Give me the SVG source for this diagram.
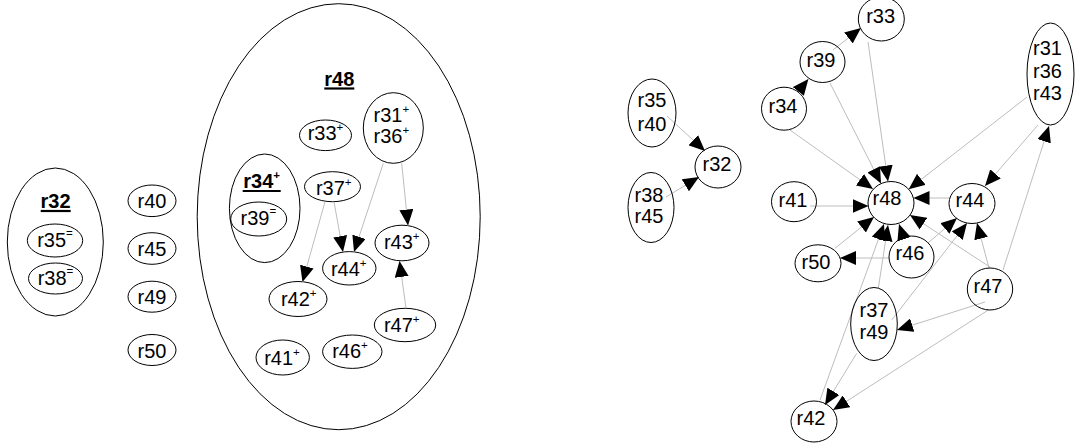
<svg xmlns="http://www.w3.org/2000/svg" width="1075" height="443" viewBox="0 0 1075 443">
  <defs>
    <marker id="arrow" markerUnits="userSpaceOnUse" markerWidth="16" markerHeight="14" viewBox="0 0 16 14" refX="16" refY="7" orient="auto">
      <path d="M0,0 L16,7 L0,14 z" fill="#000"/>
    </marker>
    <style>
      ellipse { fill: none; stroke: #000; stroke-width: 1; }
      text { font-family: "Liberation Sans", Arial, sans-serif; font-size: 20px; fill: #000; text-anchor: middle; }
      .title { font-weight: bold; }
      .uline { stroke: #000; stroke-width: 2.2; }
      .sup { font-size: 11.5px; }
      #edges line { stroke: #bdbdbd; stroke-width: 1; marker-end: url(#arrow); }
    </style>
  </defs>
  <rect width="1075" height="443" fill="#fff"/>

  <!-- left: nested grouping -->
  <g id="r32-group">
    <ellipse cx="55.3" cy="242" rx="48" ry="74"/>
    <text class="title" x="55.5" y="208.3">r32</text>
    <line class="uline" x1="40.7" y1="211" x2="70.7" y2="211"/>
  </g>
  <g id="r35-eq">
    <ellipse cx="55" cy="240.5" rx="27.7" ry="16.5"/>
    <text x="55" y="247">r35<tspan class="sup" dy="-10">=</tspan></text>
  </g>
  <g id="r38-eq">
    <ellipse cx="55.5" cy="278.5" rx="27" ry="15.5"/>
    <text x="55.5" y="285">r38<tspan class="sup" dy="-10">=</tspan></text>
  </g>
  <g id="r40-left">
    <ellipse cx="152" cy="200.8" rx="24" ry="15.8"/>
    <text x="152" y="208">r40</text>
  </g>
  <g id="r45-left">
    <ellipse cx="152" cy="248.5" rx="24" ry="15.8"/>
    <text x="152" y="256.3">r45</text>
  </g>
  <g id="r49-left">
    <ellipse cx="152" cy="296.7" rx="24" ry="15.5"/>
    <text x="152" y="304.3">r49</text>
  </g>
  <g id="r50-left">
    <ellipse cx="152" cy="350" rx="24" ry="15.5"/>
    <text x="152" y="357.5">r50</text>
  </g>

  <g id="r48-group">
    <ellipse cx="338.7" cy="216.7" rx="141.5" ry="213"/>
    <text class="title" x="339.3" y="86">r48</text>
    <line class="uline" x1="324.3" y1="88.5" x2="354.3" y2="88.5"/>
  </g>
  <g id="r33-plus">
    <ellipse cx="325.5" cy="135.3" rx="26" ry="15.3"/>
    <text x="325.5" y="140">r33<tspan class="sup" dy="-9">+</tspan></text>
  </g>
  <g id="r31-r36-plus">
    <ellipse cx="393.3" cy="128" rx="30" ry="35.3"/>
    <text x="391.3" y="121.7">r31<tspan class="sup" dy="-9">+</tspan></text>
    <text x="391.3" y="143.3">r36<tspan class="sup" dy="-9">+</tspan></text>
  </g>
  <g id="r34-group">
    <ellipse cx="264.7" cy="208.3" rx="35.3" ry="54.3"/>
    <text class="title" x="261.7" y="188.3">r34<tspan class="sup" dy="-9">+</tspan></text>
    <line class="uline" x1="242.7" y1="191" x2="280.7" y2="191"/>
  </g>
  <g id="r39-eq">
    <ellipse cx="258.7" cy="219" rx="28" ry="17"/>
    <text x="258.3" y="225">r39<tspan class="sup" dy="-10">=</tspan></text>
  </g>
  <g id="r37-plus">
    <ellipse cx="332.5" cy="186.7" rx="28" ry="15"/>
    <text x="333.7" y="195">r37<tspan class="sup" dy="-9">+</tspan></text>
  </g>
  <g id="r43-plus">
    <ellipse cx="402" cy="243" rx="27" ry="17.8"/>
    <text x="401.7" y="249.3">r43<tspan class="sup" dy="-9">+</tspan></text>
  </g>
  <g id="r44-plus">
    <ellipse cx="349.3" cy="268.3" rx="26.7" ry="16.7"/>
    <text x="348.7" y="276">r44<tspan class="sup" dy="-9">+</tspan></text>
  </g>
  <g id="r42-plus">
    <ellipse cx="298" cy="299" rx="29" ry="17.5"/>
    <text x="298.7" y="306">r42<tspan class="sup" dy="-9">+</tspan></text>
  </g>
  <g id="r47-plus">
    <ellipse cx="405" cy="325" rx="30.7" ry="16.7"/>
    <text x="401.7" y="331.7">r47<tspan class="sup" dy="-9">+</tspan></text>
  </g>
  <g id="r46-plus">
    <ellipse cx="352.3" cy="351.7" rx="29.7" ry="16.7"/>
    <text x="350" y="358.3">r46<tspan class="sup" dy="-9">+</tspan></text>
  </g>
  <g id="r41-plus">
    <ellipse cx="282.7" cy="357.5" rx="26.7" ry="17.5"/>
    <text x="282" y="365">r41<tspan class="sup" dy="-9">+</tspan></text>
  </g>

  <!-- connectors -->
  <g id="edges">
    <!-- inside r48 grouping -->
    <line x1="401.7" y1="163.3" x2="408" y2="225.5"/>
    <line x1="383.3" y1="163.3" x2="354" y2="252"/>
    <line x1="334" y1="201.7" x2="343" y2="252"/>
    <line x1="325" y1="201.7" x2="302.5" y2="282"/>
    <line x1="406" y1="308.3" x2="399.5" y2="261"/>

    <!-- dependency graph -->
    <line x1="667" y1="116" x2="705" y2="151"/>
    <line x1="666" y1="197" x2="699" y2="177"/>
    <line x1="798" y1="92" x2="808.4" y2="79"/>
    <line x1="833" y1="50" x2="861" y2="28"/>
    <line x1="790" y1="130" x2="873" y2="189"/>
    <line x1="830" y1="83" x2="881" y2="183.6"/>
    <line x1="868" y1="42" x2="888" y2="181.5"/>
    <line x1="1027" y1="97" x2="908.7" y2="189.2"/>
    <line x1="1038" y1="125" x2="985" y2="186"/>
    <line x1="1003" y1="270" x2="1049" y2="126"/>
    <line x1="810" y1="206" x2="868.5" y2="206"/>
    <line x1="950" y1="198" x2="913.5" y2="198"/>
    <line x1="903" y1="236" x2="899" y2="224"/>
    <line x1="990" y1="267" x2="910" y2="215"/>
    <line x1="989" y1="268" x2="977" y2="223"/>
    <line x1="928" y1="243" x2="957" y2="218"/>
    <line x1="891.7" y1="320" x2="967" y2="223"/>
    <line x1="889" y1="258" x2="840" y2="258"/>
    <line x1="835" y1="248.3" x2="874" y2="217"/>
    <line x1="878.3" y1="288.3" x2="888" y2="225"/>
    <line x1="820" y1="400" x2="884" y2="224"/>
    <line x1="856.7" y1="353.3" x2="825" y2="405"/>
    <line x1="988.3" y1="310" x2="833" y2="410"/>
    <line x1="985" y1="302" x2="897" y2="330"/>
  </g>

  <g id="n-r35-r40">
    <ellipse cx="652" cy="113" rx="24" ry="34"/>
    <text x="652" y="107.3">r35</text>
    <text x="652" y="130.7">r40</text>
  </g>
  <g id="n-r38-r45">
    <ellipse cx="651" cy="207.5" rx="23" ry="35"/>
    <text x="649" y="201.5">r38</text>
    <text x="649" y="223.3">r45</text>
  </g>
  <g id="n-r32">
    <ellipse cx="718" cy="167" rx="23" ry="21"/>
    <text x="717" y="170.7">r32</text>
  </g>
  <g id="n-r33">
    <ellipse cx="881.3" cy="19" rx="23" ry="22"/>
    <text x="880.6" y="22.7">r33</text>
  </g>
  <g id="n-r39">
    <ellipse cx="822.5" cy="62" rx="22.5" ry="20.5"/>
    <text x="821" y="66.7">r39</text>
  </g>
  <g id="n-r34">
    <ellipse cx="784" cy="108.7" rx="22.5" ry="21.5"/>
    <text x="783" y="113.3">r34</text>
  </g>
  <g id="n-r31-r36-r43">
    <ellipse cx="1050.5" cy="74" rx="23.5" ry="51"/>
    <text x="1047.5" y="55">r31</text>
    <text x="1047.5" y="78.3">r36</text>
    <text x="1047.5" y="100">r43</text>
  </g>
  <g id="n-r48">
    <ellipse cx="891" cy="203" rx="23" ry="21.5"/>
    <text x="887" y="205">r48</text>
  </g>
  <g id="n-r44">
    <ellipse cx="972" cy="203.5" rx="23" ry="20"/>
    <text x="970" y="207">r44</text>
  </g>
  <g id="n-r41">
    <ellipse cx="794" cy="201.7" rx="22.5" ry="20"/>
    <text x="793" y="206.7">r41</text>
  </g>
  <g id="n-r46">
    <ellipse cx="911.5" cy="257" rx="22.5" ry="21"/>
    <text x="910" y="260">r46</text>
  </g>
  <g id="n-r50">
    <ellipse cx="818" cy="263.3" rx="23" ry="18.5"/>
    <text x="816" y="269">r50</text>
  </g>
  <g id="n-r47">
    <ellipse cx="990" cy="289" rx="22.7" ry="21"/>
    <text x="988" y="293.3">r47</text>
  </g>
  <g id="n-r37-r49">
    <ellipse cx="874" cy="324" rx="23.3" ry="36.5"/>
    <text x="874" y="317.3">r37</text>
    <text x="874" y="339.3">r49</text>
  </g>
  <g id="n-r42">
    <ellipse cx="814" cy="421.5" rx="23" ry="20.5"/>
    <text x="811" y="425">r42</text>
  </g>
</svg>
